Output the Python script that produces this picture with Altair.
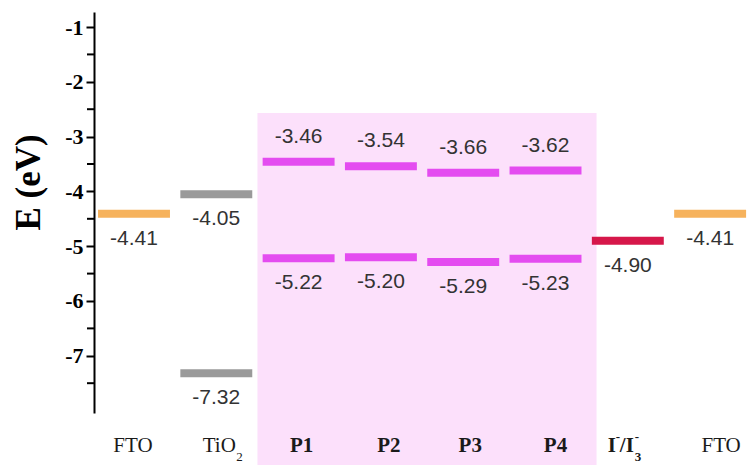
import altair as alt
import pandas as pd

# ---------------- data ----------------
categories = ["FTO", "TiO2", "P1", "P2", "P3", "P4", "I-/I3-", "FTO"]
level_slot = [0, 1, 1, 2, 2, 3, 3, 4, 4, 5, 5, 6, 7]
level_value = [-4.41, -4.05, -7.32, -3.46, -5.22, -3.54, -5.20, -3.66, -5.29, -3.62, -5.23, -4.90, -4.41]
level_label = ["-4.41", "-4.05", "-7.32", "-3.46", "-5.22", "-3.54", "-5.20",
               "-3.66", "-5.29", "-3.62", "-5.23", "-4.90", "-4.41"]
level_group = ["FTO", "TiO2", "TiO2", "Dye", "Dye", "Dye", "Dye", "Dye", "Dye",
               "Dye", "Dye", "Redox", "FTO"]
level_side = ["below", "below", "below", "above", "below", "above", "below",
              "above", "below", "above", "below", "below", "below"]
major_ticks = [-1, -2, -3, -4, -5, -6, -7]
minor_ticks = [-1.5, -2.5, -3.5, -4.5, -5.5, -6.5, -7.5]
dye_first_slot, dye_last_slot = 2, 5

# ---------------- styles ----------------
SERIF = "Liberation Serif"
SANS = "Liberation Sans"
HALF = 0.437
group_domain = ["FTO", "TiO2", "Dye", "Redox"]
group_range = ["#f6b25c", "#9a9a9a", "#e44cf0", "#d6174a"]

x_scale = alt.Scale(domain=[-0.486, 7.448], nice=False, zero=False)
y_scale = alt.Scale(domain=[-8.044, -0.726], nice=False, zero=False)


def X(field):
    return alt.X(f"{field}:Q", scale=x_scale, axis=None)


def Y(field):
    return alt.Y(
        f"{field}:Q",
        scale=y_scale,
        axis=alt.Axis(
            values=major_ticks,
            title="E (eV)",
            titleFont=SERIF,
            titleFontSize=35,
            titleFontWeight="bold",
            titleColor="black",
            titleX=-66,
            titleY=170,
            titleAngle=270,
            titleAlign="center",
            titleBaseline="middle",
            labelFont=SERIF,
            labelFontSize=22,
            labelFontWeight="bold",
            labelColor="black",
            labelPadding=3,
            labelExpr="'-' + toString(abs(datum.value))",
            tickSize=8,
            tickWidth=2,
            tickColor="black",
            domainColor="black",
            domainWidth=2,
            grid=False,
            labelFlush=False,
        ),
    )


levels = pd.DataFrame({
    "slot": level_slot,
    "v": level_value,
    "label": level_label,
    "group": level_group,
    "side": level_side,
})
levels["x0"] = levels["slot"] - HALF
levels["x1"] = levels["slot"] + HALF

band = pd.DataFrame({"x0": [dye_first_slot - 0.5], "x1": [dye_last_slot + 0.62],
                     "top": [-2.57], "bottom": [-9.0]})

band_layer = alt.Chart(band).mark_rect(color="#fce0fb").encode(
    x=X("x0"), x2="x1", y=Y("top"), y2="bottom")

minor_layer = alt.Chart(pd.DataFrame({"v": minor_ticks})).mark_rule(
    color="black", strokeWidth=2).encode(
    x=alt.value(-7), x2=alt.value(0), y=Y("v"))

bars = alt.Chart(levels).mark_rule(strokeWidth=8, strokeCap="butt").encode(
    x=X("x0"), x2="x1", y=Y("v"),
    color=alt.Color("group:N", scale=alt.Scale(domain=group_domain, range=group_range),
                    legend=None))

above = alt.Chart(levels).transform_filter(alt.datum.side == "above").mark_text(
    font=SANS, fontSize=21, color="#333333", dy=-25, baseline="middle").encode(
    x=alt.X("slot:Q", scale=x_scale, axis=None), y=Y("v"), text="label:N")

below = alt.Chart(levels).transform_filter(alt.datum.side == "below").mark_text(
    font=SANS, fontSize=21, color="#333333", dy=25, baseline="middle").encode(
    x=alt.X("slot:Q", scale=x_scale, axis=None), y=Y("v"), text="label:N")

LABEL_Y = 434


def piece(text, slot, dx, dy=0, size=21, weight="normal", align="center"):
    df = pd.DataFrame({"slot": [slot], "t": [text]})
    return alt.Chart(df).mark_text(
        font=SERIF, fontSize=size, fontWeight=weight, dx=dx, dy=dy,
        align=align, baseline="middle", color="#1a1a1a").encode(
        x=alt.X("slot:Q", scale=x_scale, axis=None), y=alt.value(LABEL_Y), text="t:N")


cat_layers = [
    piece(categories[0], 0, -1),
    piece(categories[1][:3], 1, 3),
    piece(categories[1][3], 1, 20, dy=11, size=13, align="left"),
    piece(categories[2], 2, 3, weight="bold"),
    piece(categories[3], 3, 8, weight="bold"),
    piece(categories[4], 4, 7, weight="bold"),
    piece(categories[5], 5, 10, weight="bold"),
    piece("I", 6, -20, weight="bold", align="left"),
    piece("-", 6, -12, dy=-9, size=13, weight="bold", align="left"),
    piece("/I", 6, -8, weight="bold", align="left"),
    piece("3", 6, 7, dy=11, size=13, weight="bold", align="left"),
    piece("-", 6, 7, dy=-9, size=13, weight="bold", align="left"),
    piece(categories[7], 7, 11),
]

chart = alt.layer(band_layer, minor_layer, bars, above, below, *cat_layers).properties(
    width=653, height=401,
    autosize=alt.AutoSizeParams(type="none"),
    padding={"left": 86, "top": 4, "right": 0, "bottom": 52},
    background="white",
).configure_view(strokeWidth=0)

chart.save("out.html", embed_options={"renderer": "svg", "actions": False})
